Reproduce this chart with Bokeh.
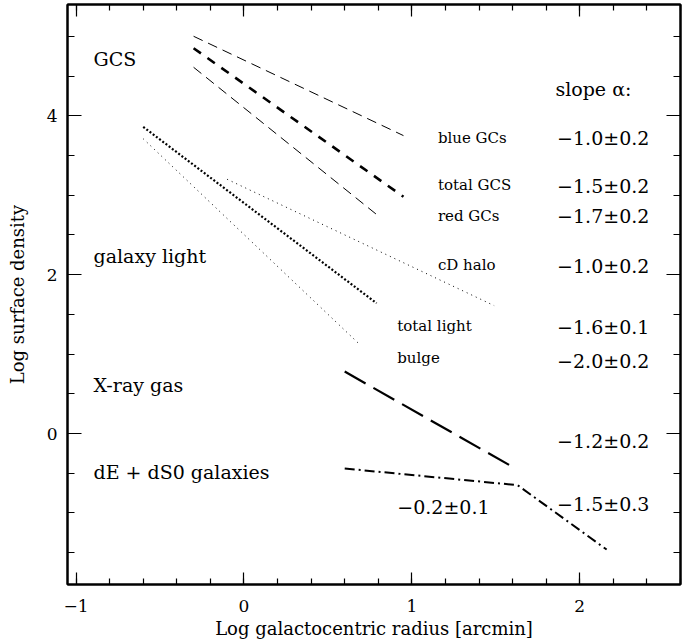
from bokeh.plotting import figure
from bokeh.models import Range1d, LinearAxis, FixedTicker, ColumnDataSource
from bokeh.core.properties import value
from bokeh.embed import file_html
from bokeh.resources import INLINE

# ---- data: profile segments (log r [arcmin], log surface density) ----
blue_gc_x = [-0.30, 0.95]
blue_gc_y = [5.00, 3.75]
total_gcs_x = [-0.30, 0.95]
total_gcs_y = [4.85, 2.98]
red_gc_x = [-0.30, 0.80]
red_gc_y = [4.61, 2.74]
total_light_x = [-0.60, 0.79]
total_light_y = [3.86, 1.64]
bulge_x = [-0.60, 0.68]
bulge_y = [3.71, 1.14]
cd_halo_x = [-0.10, 1.49]
cd_halo_y = [3.20, 1.61]
xray_x = [0.60, 1.60]
xray_y = [0.78, -0.42]
dwarf_x = [0.60, 1.63, 2.16]
dwarf_y = [-0.44, -0.65, -1.46]

# ---- text ----
group_labels = ["GCS", "galaxy light", "X-ray gas", "dE + dS0 galaxies"]
group_label_x = [-0.896, -0.896, -0.896, -0.896]
group_label_y = [4.717, 2.239, 0.616, -0.478]

component_names = ["blue GCs", "total GCS", "red GCs", "cD halo", "total light", "bulge"]
component_x = [1.155, 1.155, 1.155, 1.155, 0.913, 0.913]
component_y = [3.72, 3.13, 2.74, 2.126, 1.358, 0.956]

slope_header = ["slope α:"]
slope_values = ["−1.0±0.2", "−1.5±0.2", "−1.7±0.2", "−1.0±0.2",
                "−1.6±0.1", "−2.0±0.2", "−1.2±0.2", "−1.5±0.3"]
slope_y = [3.72, 3.12, 2.74, 2.11, 1.337, 0.918, -0.088, -0.884]
inner_slope = ["−0.2±0.1"]

x_major = [-1, 0, 1, 2]
x_minor = [round(-1.0 + 0.2 * i, 1) for i in range(19)]
y_major = [0, 2, 4]
y_minor = [round(-1.5 + 0.5 * i, 1) for i in range(14)]
x_tick_labels = {-1: "−1", 0: "0", 1: "1", 2: "2"}
y_tick_labels = {0: "0", 2: "2", 4: "4"}

FONT = "DejaVu Serif"

p = figure(width=688, height=644,
           x_range=Range1d(-1.051, 2.60), y_range=Range1d(-1.90, 5.40),
           output_backend="svg", toolbar_location=None,
           min_border_left=67, min_border_right=8,
           min_border_top=4, min_border_bottom=60)
p.grid.visible = False
p.outline_line_color = "black"
p.outline_line_width = 2
p.background_fill_color = "white"
p.border_fill_color = "white"

def style_axis(ax, ticks, minor, overrides, tin, min_in):
    ax.ticker = FixedTicker(ticks=ticks, minor_ticks=minor)
    ax.major_tick_in = tin
    ax.major_tick_out = 0
    ax.minor_tick_in = min_in
    ax.minor_tick_out = 0
    ax.axis_line_color = "black"
    ax.axis_line_width = 2
    ax.major_tick_line_color = "black"
    ax.minor_tick_line_color = "black"
    ax.major_tick_line_width = 1.2
    ax.minor_tick_line_width = 1.2
    ax.major_label_overrides = overrides
    ax.major_label_text_font = FONT
    ax.major_label_text_font_size = "17px"
    ax.major_label_text_color = "black"
    ax.axis_label_text_font = FONT
    ax.axis_label_text_font_size = "18px"
    ax.axis_label_text_font_style = "normal"
    ax.axis_label_text_color = "black"

style_axis(p.xaxis[0], x_major, x_minor, x_tick_labels, 12, 6)
style_axis(p.yaxis[0], y_major, y_minor, y_tick_labels, 14, 7)
p.xaxis[0].axis_label = "Log galactocentric radius [arcmin]"
p.yaxis[0].axis_label = "Log surface density"
p.xaxis[0].major_label_standoff = 15
p.xaxis[0].axis_label_standoff = 3
p.yaxis[0].major_label_standoff = 10
p.yaxis[0].axis_label_standoff = 16

# mirrored tick marks on the top and right edges (labels left blank)
top = LinearAxis()
style_axis(top, x_major, x_minor, {t: "" for t in x_major}, 12, 6)
top.major_label_standoff = 0
right = LinearAxis()
style_axis(right, y_major, y_minor, {t: "" for t in y_major}, 14, 7)
right.major_label_standoff = 0
p.add_layout(top, "above")
p.add_layout(right, "right")

# ---- profiles ----
p.line(blue_gc_x, blue_gc_y, line_color="black", line_width=1, line_dash="10 6")
p.line(total_gcs_x, total_gcs_y, line_color="black", line_width=2.6, line_dash="9 8")
p.line(red_gc_x, red_gc_y, line_color="black", line_width=1, line_dash="10 6")
p.line(total_light_x, total_light_y, line_color="black", line_width=2.2, line_dash="2 2")
p.line(bulge_x, bulge_y, line_color="black", line_width=1, line_dash="1 4")
p.line(cd_halo_x, cd_halo_y, line_color="black", line_width=1, line_dash="1 4")
p.line(xray_x, xray_y, line_color="black", line_width=2.2, line_dash="24 9")
p.line(dwarf_x, dwarf_y, line_color="black", line_width=2, line_dash="10 4 2 4")

def add_text(xs, ys, texts, size):
    src = ColumnDataSource(dict(x=xs, y=ys, text=texts))
    p.text(x="x", y="y", text="text", source=src,
           text_font=value(FONT), text_font_size=size,
           text_align="left", text_baseline="alphabetic", text_color="black")

add_text(group_label_x, group_label_y, group_labels, "19px")
add_text(component_x, component_y, component_names, "15px")
add_text([1.855], [4.335], slope_header, "19px")
add_text([1.865] * len(slope_values), slope_y, slope_values, "19px")
add_text([0.913], [-0.927], inner_slope, "19px")

open("out.html", "w").write(file_html(p, INLINE))
